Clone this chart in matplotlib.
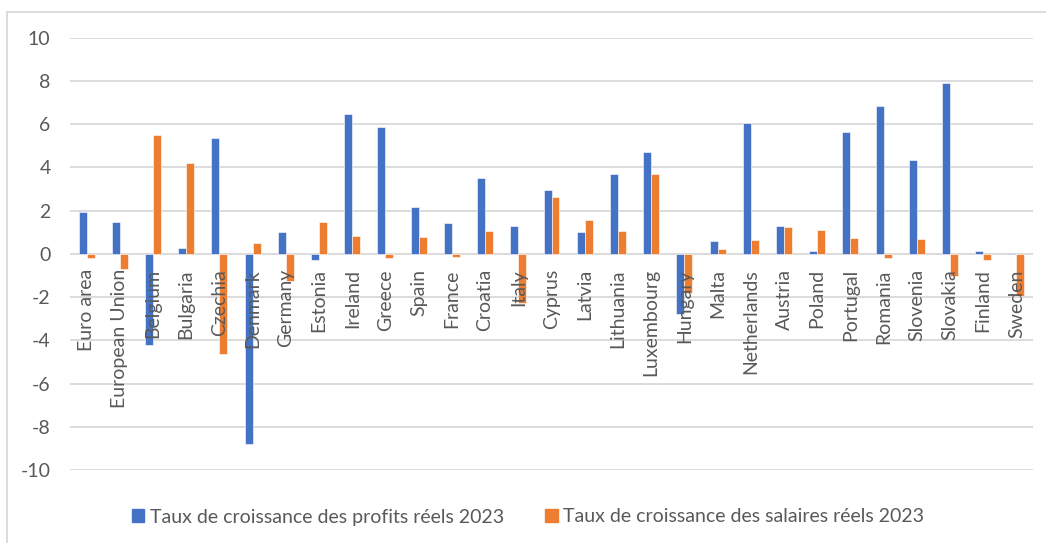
import matplotlib.pyplot as plt
from matplotlib.lines import Line2D
from matplotlib.patches import Patch
import numpy as np

countries = ['Euro area', 'European Union', 'Belgium', 'Bulgaria', 'Czechia', 'Denmark',
             'Germany', 'Estonia', 'Ireland', 'Greece', 'Spain', 'France', 'Croatia',
             'Italy', 'Cyprus', 'Latvia', 'Lithuania', 'Luxembourg', 'Hungary', 'Malta',
             'Netherlands', 'Austria', 'Poland', 'Portugal', 'Romania', 'Slovenia',
             'Slovakia', 'Finland', 'Sweden']
profits = [1.92, 1.46, -4.2, 0.28, 5.38, -8.8, 1.03, -0.29, 6.46, 5.88, 2.18, 1.41, 3.49,
           1.27, 2.95, 1.03, 3.68, 4.69, -2.8, 0.6, 6.05, 1.31, 0.12, 5.66, 6.83, 4.32,
           7.92, 0.15, 0.05]
salaires = [-0.2, -0.7, 5.51, 4.22, -4.62, 0.52, -1.26, 1.46, 0.84, -0.19, 0.77, -0.16, 1.08,
            -2.29, 2.65, 1.57, 1.08, 3.69, -1.8, 0.24, 0.66, 1.23, 1.1, 0.74, -0.17, 0.69,
            -1.03, -0.28, -1.93]
yticks = [-10, -8, -6, -4, -2, 0, 2, 4, 6, 8, 10]
label_profits = 'Taux de croissance des profits réels 2023'
label_salaires = 'Taux de croissance des salaires réels 2023'

blue = '#4472C4'
orange = '#ED7D31'
grey_text = '#595959'
grid_col = '#D9D9D9'

plt.rcParams['font.family'] = ['Lato', 'DejaVu Sans']

W, H = 1046, 543
fig = plt.figure(figsize=(W / 100, H / 100), dpi=100)
fig.patch.set_facecolor('white')

# axes placed in pixel terms: x 70..1033, y(10)=37.7, y(-10)=470
ax = fig.add_axes([70 / W, 1 - 470 / H, (1033 - 70) / W, (470 - 37.7) / H])

x = np.arange(len(countries))
bw = 0.24
ax.bar(x - bw / 2, profits, bw, color=blue, edgecolor='white', linewidth=0.4, zorder=3)
ax.bar(x + bw / 2, salaires, bw, color=orange, edgecolor='white', linewidth=0.4, zorder=3)

ax.set_xlim(-0.5, len(countries) - 0.5)
ax.set_ylim(-10, 10)
ax.set_yticks(yticks)
ax.set_yticklabels([str(t) for t in yticks], fontsize=14, color=grey_text)
ax.tick_params(axis='y', length=0, pad=14)
ax.set_xticks([])
for v in yticks:
    ax.axhline(v, color=grid_col, linewidth=1.3, zorder=1)
for s in ax.spines.values():
    s.set_visible(False)

# category labels next to the zero line
for xi, name in zip(x, countries):
    ax.annotate(name, xy=(xi, 0), xytext=(0, -11), textcoords='offset points',
                rotation=90, ha='center', va='top', fontsize=14, color=grey_text,
                zorder=4)

handles = [Patch(color=blue), Patch(color=orange)]
fig.legend(handles, [label_profits, label_salaires], loc='center',
           bbox_to_anchor=(528 / W, 1 - 517 / H), ncol=2, frameon=False,
           fontsize=14, labelcolor=grey_text, handlelength=0.65, handleheight=0.65,
           handletextpad=0.3, columnspacing=2.1)

# chart area border (top and left visible)
fig.add_artist(Line2D([7 / W, 7 / W], [0, 1 - 12 / H], color='#D9D9D9', linewidth=1.3))
fig.add_artist(Line2D([7 / W, 1], [1 - 12 / H, 1 - 12 / H], color='#D9D9D9', linewidth=1.3))

fig.savefig('out.png', dpi=100)
